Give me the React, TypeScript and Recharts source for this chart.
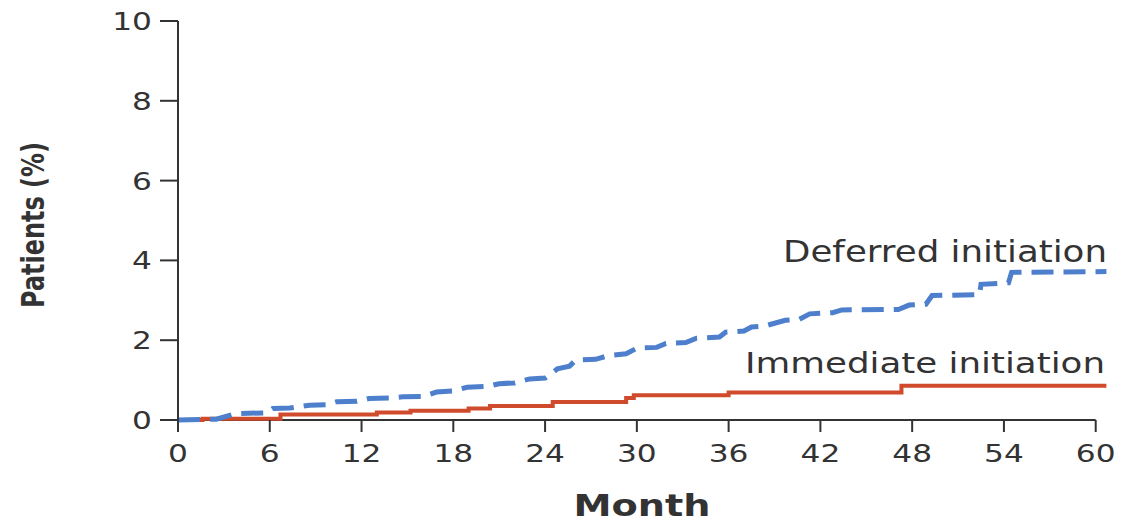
import { LineChart, Line, XAxis, YAxis, ReferenceLine, Customized } from "recharts";

// month, cumulative % of patients
const immediateMonths = [0, 1.6, 6.7, 13.0, 15.2, 19.0, 20.4, 24.5, 29.3, 29.8, 36.0, 47.3, 60.7];
const immediateValues = [0, 0.03, 0.14, 0.19, 0.23, 0.29, 0.35, 0.45, 0.55, 0.62, 0.69, 0.86, 0.86];

const deferredMonths = [
  0, 2.5, 3.8, 5.8, 6.2, 7.3, 8.6, 9.7, 10.4, 11.7, 12.5, 13.8, 14.7, 16, 16.9, 18, 18.9, 20.2, 21, 22,
  23, 24, 24.8, 25.6, 26, 27.3, 28.2, 29.3, 30, 31.3, 31.9, 33.2, 33.9, 35.4, 35.8, 37, 37.5, 38.4, 39.7,
  40.6, 41.3, 42.8, 43.4, 47.1, 47.8, 48.9, 49.3, 52.4, 52.5, 54.3, 54.5, 60.7,
];
const deferredValues = [
  0, 0.02, 0.16, 0.18, 0.29, 0.3, 0.37, 0.38, 0.46, 0.47, 0.54, 0.55, 0.58, 0.59, 0.7, 0.73, 0.82, 0.84,
  0.91, 0.93, 1.03, 1.05, 1.28, 1.35, 1.5, 1.52, 1.62, 1.66, 1.8, 1.82, 1.92, 1.94, 2.05, 2.08, 2.2, 2.23,
  2.33, 2.36, 2.5, 2.52, 2.66, 2.69, 2.76, 2.77, 2.88, 2.9, 3.12, 3.14, 3.4, 3.44, 3.7, 3.72,
];

const xTicks = [0, 6, 12, 18, 24, 30, 36, 42, 48, 54, 60];
const yTicks = [0, 2, 4, 6, 8, 10];

const immediate = immediateMonths.map((m, i) => ({ m, v: immediateValues[i] }));
const deferred = deferredMonths.map((m, i) => ({ m, v: deferredValues[i] }));

const FONT = "DejaVu Sans";
const INK = "#333";
const BLUE = "#4d7fcc";
const RED = "#d04b2c";

function XTick({ x, y, payload }: any) {
  return (
    <text transform={`translate(${x},${y + 28}) scale(1.25,1)`} textAnchor="middle" fontSize={25} fontFamily={FONT} fill={INK}>
      {payload.value}
    </text>
  );
}

function YTick({ x, y, payload }: any) {
  return (
    <text transform={`translate(${x},${y + 9}) scale(1.25,1)`} textAnchor="end" fontSize={25} fontFamily={FONT} fill={INK}>
      {payload.value}
    </text>
  );
}

function Notes() {
  return (
    <g fontFamily={FONT} fill={INK}>
      <text x={1107} y={262} fontSize={30} textAnchor="end" textLength={324} lengthAdjust="spacingAndGlyphs">
        Deferred initiation
      </text>
      <text x={1105} y={373} fontSize={29} textAnchor="end" textLength={360} lengthAdjust="spacingAndGlyphs">
        Immediate initiation
      </text>
      <text x={642} y={516} fontSize={31} fontWeight="bold" textAnchor="middle" textLength={137} lengthAdjust="spacingAndGlyphs">
        Month
      </text>
      <text
        transform="translate(44,225) scale(1.35,1) rotate(-90)"
        fontSize={24}
        fontWeight="bold"
        textAnchor="middle"
        textLength={166}
        lengthAdjust="spacingAndGlyphs"
      >
        Patients (%)
      </text>
    </g>
  );
}

export default function App() {
  return (
    <div style={{ position: "absolute", left: 0, top: 0 }}>
      <LineChart width={1123} height={526} margin={{ top: 21, right: 12, left: 0, bottom: 0 }}>
        <XAxis
          dataKey="m"
          type="number"
          domain={[0, 61]}
          ticks={xTicks}
          height={106}
          tickSize={12}
          tickMargin={2}
          axisLine={false}
          tickLine={{ stroke: INK, strokeWidth: 2 }}
          tick={<XTick />}
        />
        <YAxis
          type="number"
          domain={[0, 10]}
          ticks={yTicks}
          width={178}
          tickSize={18}
          tickMargin={8}
          axisLine={{ stroke: INK, strokeWidth: 2 }}
          tickLine={{ stroke: INK, strokeWidth: 2 }}
          tick={<YTick />}
        />
        <ReferenceLine segment={[{ x: 0, y: 0 }, { x: 60, y: 0 }]} stroke={INK} strokeWidth={2} />
        <Line
          data={immediate}
          dataKey="v"
          type="stepAfter"
          stroke={RED}
          strokeWidth={4}
          dot={false}
          isAnimationActive={false}
        />
        <Line
          data={deferred}
          dataKey="v"
          type="linear"
          stroke={BLUE}
          strokeWidth={5}
          strokeDasharray="22 10"
          dot={false}
          isAnimationActive={false}
        />
        <Customized component={Notes} />
      </LineChart>
    </div>
  );
}
